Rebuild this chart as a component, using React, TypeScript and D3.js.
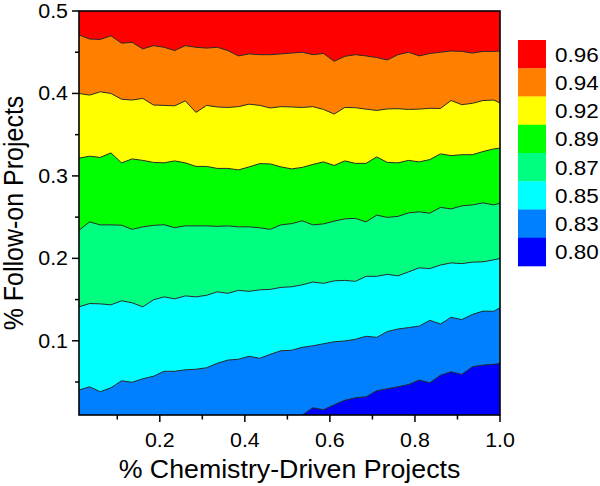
import React from "react";
import * as d3 from "d3";

// x positions (fraction of chemistry-driven projects) at which contour boundaries are sampled
const xGrid = [0.01, 0.035, 0.06, 0.085, 0.11, 0.135, 0.16, 0.185, 0.21, 0.235, 0.26, 0.285, 0.31, 0.335, 0.36, 0.385, 0.41, 0.435, 0.46, 0.485, 0.51, 0.535, 0.56, 0.585, 0.61, 0.635, 0.66, 0.685, 0.71, 0.735, 0.76, 0.785, 0.81, 0.835, 0.86, 0.885, 0.91, 0.935, 0.96, 0.985, 1.0];

// contour boundaries (y = % follow-on projects)
const b096 = [0.471, 0.466, 0.4655, 0.47, 0.461, 0.462, 0.454, 0.458, 0.456, 0.452, 0.458, 0.456, 0.455, 0.456, 0.452, 0.4455, 0.448, 0.447, 0.447, 0.448, 0.449, 0.45, 0.447, 0.4485, 0.439, 0.445, 0.447, 0.4455, 0.4436, 0.4406, 0.447, 0.45, 0.4455, 0.4485, 0.45, 0.4515, 0.451, 0.449, 0.451, 0.451, 0.4515];
const b094 = [0.4, 0.398, 0.402, 0.4, 0.393, 0.392, 0.394, 0.386, 0.3855, 0.385, 0.391, 0.377, 0.3855, 0.3836, 0.383, 0.384, 0.387, 0.3855, 0.3824, 0.384, 0.3836, 0.383, 0.384, 0.3806, 0.375, 0.383, 0.3827, 0.381, 0.3794, 0.3812, 0.3815, 0.3806, 0.381, 0.382, 0.3818, 0.3915, 0.3864, 0.388, 0.3914, 0.392, 0.3885];
const b092 = [0.3215, 0.3239, 0.3224, 0.3279, 0.3158, 0.3206, 0.3188, 0.3164, 0.3158, 0.3182, 0.3158, 0.3115, 0.3115, 0.3091, 0.3091, 0.3073, 0.3109, 0.3149, 0.3145, 0.3109, 0.3085, 0.3103, 0.3139, 0.317, 0.3127, 0.3182, 0.3152, 0.3152, 0.323, 0.3164, 0.3158, 0.3188, 0.317, 0.3198, 0.3267, 0.3246, 0.3257, 0.3257, 0.3295, 0.3327, 0.3336];
const b089 = [0.2342, 0.2442, 0.2406, 0.2406, 0.2402, 0.2352, 0.2382, 0.24, 0.2408, 0.2372, 0.2394, 0.2394, 0.2394, 0.2388, 0.2394, 0.2382, 0.2382, 0.237, 0.2352, 0.2406, 0.2421, 0.2455, 0.2406, 0.2418, 0.2451, 0.2479, 0.2485, 0.2442, 0.2524, 0.2497, 0.2509, 0.2552, 0.2564, 0.2548, 0.2618, 0.26, 0.2636, 0.2648, 0.2673, 0.2648, 0.2669];
const b087 = [0.1412, 0.1452, 0.1448, 0.1436, 0.1485, 0.1461, 0.1412, 0.1497, 0.1533, 0.1509, 0.1545, 0.1533, 0.1552, 0.1594, 0.1576, 0.1612, 0.16, 0.1618, 0.1624, 0.1648, 0.1655, 0.1679, 0.1713, 0.1697, 0.1727, 0.1733, 0.1721, 0.1782, 0.1782, 0.1806, 0.1788, 0.1836, 0.1885, 0.1876, 0.1919, 0.1945, 0.1936, 0.1954, 0.1958, 0.1982, 0.1998];
const b085 = [0.0402, 0.0442, 0.0382, 0.043, 0.0515, 0.0497, 0.0539, 0.057, 0.063, 0.063, 0.0648, 0.0655, 0.0673, 0.0727, 0.0766, 0.0776, 0.0812, 0.0788, 0.0836, 0.0879, 0.0885, 0.0921, 0.0939, 0.0964, 0.0988, 0.0998, 0.1018, 0.1055, 0.1042, 0.1112, 0.1143, 0.116, 0.1178, 0.1248, 0.1204, 0.1285, 0.1257, 0.1319, 0.136, 0.1358, 0.14];
const xGridLow = [0.535, 0.56, 0.585, 0.61, 0.635, 0.66, 0.685, 0.71, 0.735, 0.76, 0.785, 0.81, 0.835, 0.86, 0.885, 0.91, 0.935, 0.96, 0.985, 1.0];
const b083 = [0.01, 0.0188, 0.0164, 0.0224, 0.0279, 0.0309, 0.0321, 0.0394, 0.0418, 0.0442, 0.047, 0.0524, 0.0491, 0.0582, 0.0624, 0.0592, 0.0685, 0.0705, 0.0715, 0.0725];

const levels = ["0.96", "0.94", "0.92", "0.89", "0.87", "0.85", "0.83", "0.80"];
const colors = ["#FF0000", "#FF8000", "#FFFF00", "#00FF00", "#00FF80", "#00FFFF", "#0080FF", "#0000FF"];

const xMajor = [0.2, 0.4, 0.6, 0.8, 1.0];
const xMinor = [0.1, 0.3, 0.5, 0.7, 0.9];
const yMajor = [0.1, 0.2, 0.3, 0.4, 0.5];
const yMinor = [0.05, 0.15, 0.25, 0.35, 0.45];

const FONT = "'Liberation Sans', Arial, sans-serif";
const SX = 1.07;

export default function App() {
  const W = 600, H = 486;
  const L = 79, R = 500, T = 11, B = 415;
  const x = d3.scaleLinear().domain([0.01, 1.0]).range([L, R]);
  const y = d3.scaleLinear().domain([0.01, 0.5]).range([B, T]);

  const bounds: { xs: number[]; ys: number[] }[] = [
    { xs: xGrid, ys: b096 },
    { xs: xGrid, ys: b094 },
    { xs: xGrid, ys: b092 },
    { xs: xGrid, ys: b089 },
    { xs: xGrid, ys: b087 },
    { xs: xGrid, ys: b085 },
    { xs: xGridLow, ys: b083 },
  ];

  const area = d3
    .area<[number, number]>()
    .x((d) => x(d[0]))
    .y0(y(0.01) + 2)
    .y1((d) => y(d[1]));
  const line = d3
    .line<[number, number]>()
    .x((d) => x(d[0]))
    .y((d) => y(d[1]));

  const fmt = d3.format(".1f");
  const boxH = 28.25;

  return (
    <svg
      width={W}
      height={H}
      style={{ position: "absolute", left: 0, top: 0, background: "#fff" }}
      fontFamily={FONT}
    >
      <defs>
        <clipPath id="plot">
          <rect x={L} y={T} width={R - L} height={B - T} />
        </clipPath>
      </defs>
      <g clipPath="url(#plot)">
        <rect x={L} y={T} width={R - L} height={B - T} fill={colors[0]} />
        {bounds.map((b, i) => {
          const pts = b.xs.map((xv, j) => [xv, b.ys[j]] as [number, number]);
          return <path key={"a" + i} d={area(pts) || ""} fill={colors[i + 1]} />;
        })}
        {bounds.map((b, i) => {
          const pts = b.xs.map((xv, j) => [xv, b.ys[j]] as [number, number]);
          return (
            <path
              key={"l" + i}
              d={line(pts) || ""}
              fill="none"
              stroke="#2a2a2a"
              strokeWidth={1}
              strokeLinejoin="round"
            />
          );
        })}
      </g>
      <rect x={L} y={T} width={R - L} height={B - T} fill="none" stroke="#000" strokeWidth={1.6} />

      {/* x ticks */}
      {xMajor.map((v) => (
        <g key={"xM" + v}>
          <line x1={x(v)} x2={x(v)} y1={B} y2={B + 7} stroke="#000" strokeWidth={1.5} />
          <text
            transform={`translate(${x(v)},${447}) scale(${SX},1)`}
            textAnchor="middle"
            fontSize={20}
          >
            {fmt(v)}
          </text>
        </g>
      ))}
      {xMinor.map((v) => (
        <line key={"xm" + v} x1={x(v)} x2={x(v)} y1={B} y2={B + 4.5} stroke="#000" strokeWidth={1.5} />
      ))}

      {/* y ticks */}
      {yMajor.map((v) => (
        <g key={"yM" + v}>
          <line x1={L - 7} x2={L} y1={y(v)} y2={y(v)} stroke="#000" strokeWidth={1.5} />
          <text
            transform={`translate(${68},${y(v) + 7}) scale(${SX},1)`}
            textAnchor="end"
            fontSize={20}
          >
            {fmt(v)}
          </text>
        </g>
      ))}
      {yMinor.map((v) => (
        <line key={"ym" + v} x1={L - 4} x2={L} y1={y(v)} y2={y(v)} stroke="#000" strokeWidth={1.5} />
      ))}

      {/* axis titles */}
      <text
        transform={`translate(${(L + R) / 2},${478}) scale(${SX},1)`}
        textAnchor="middle"
        fontSize={25}
      >
        % Chemistry-Driven Projects
      </text>
      <text
        transform={`translate(${23},${(T + B) / 2}) scale(${SX},1) rotate(-90)`}
        textAnchor="middle"
        fontSize={25}
      >
        % Follow-on Projects
      </text>

      {/* legend */}
      {levels.map((lv, i) => (
        <g key={"lg" + i}>
          <rect x={518} y={40 + i * boxH} width={28} height={boxH + 0.3} fill={colors[i]} />
          <text
            transform={`translate(${555},${40 + i * boxH + boxH / 2 + 7.5}) scale(${SX},1)`}
            fontSize={21}
          >
            {lv}
          </text>
        </g>
      ))}
    </svg>
  );
}
